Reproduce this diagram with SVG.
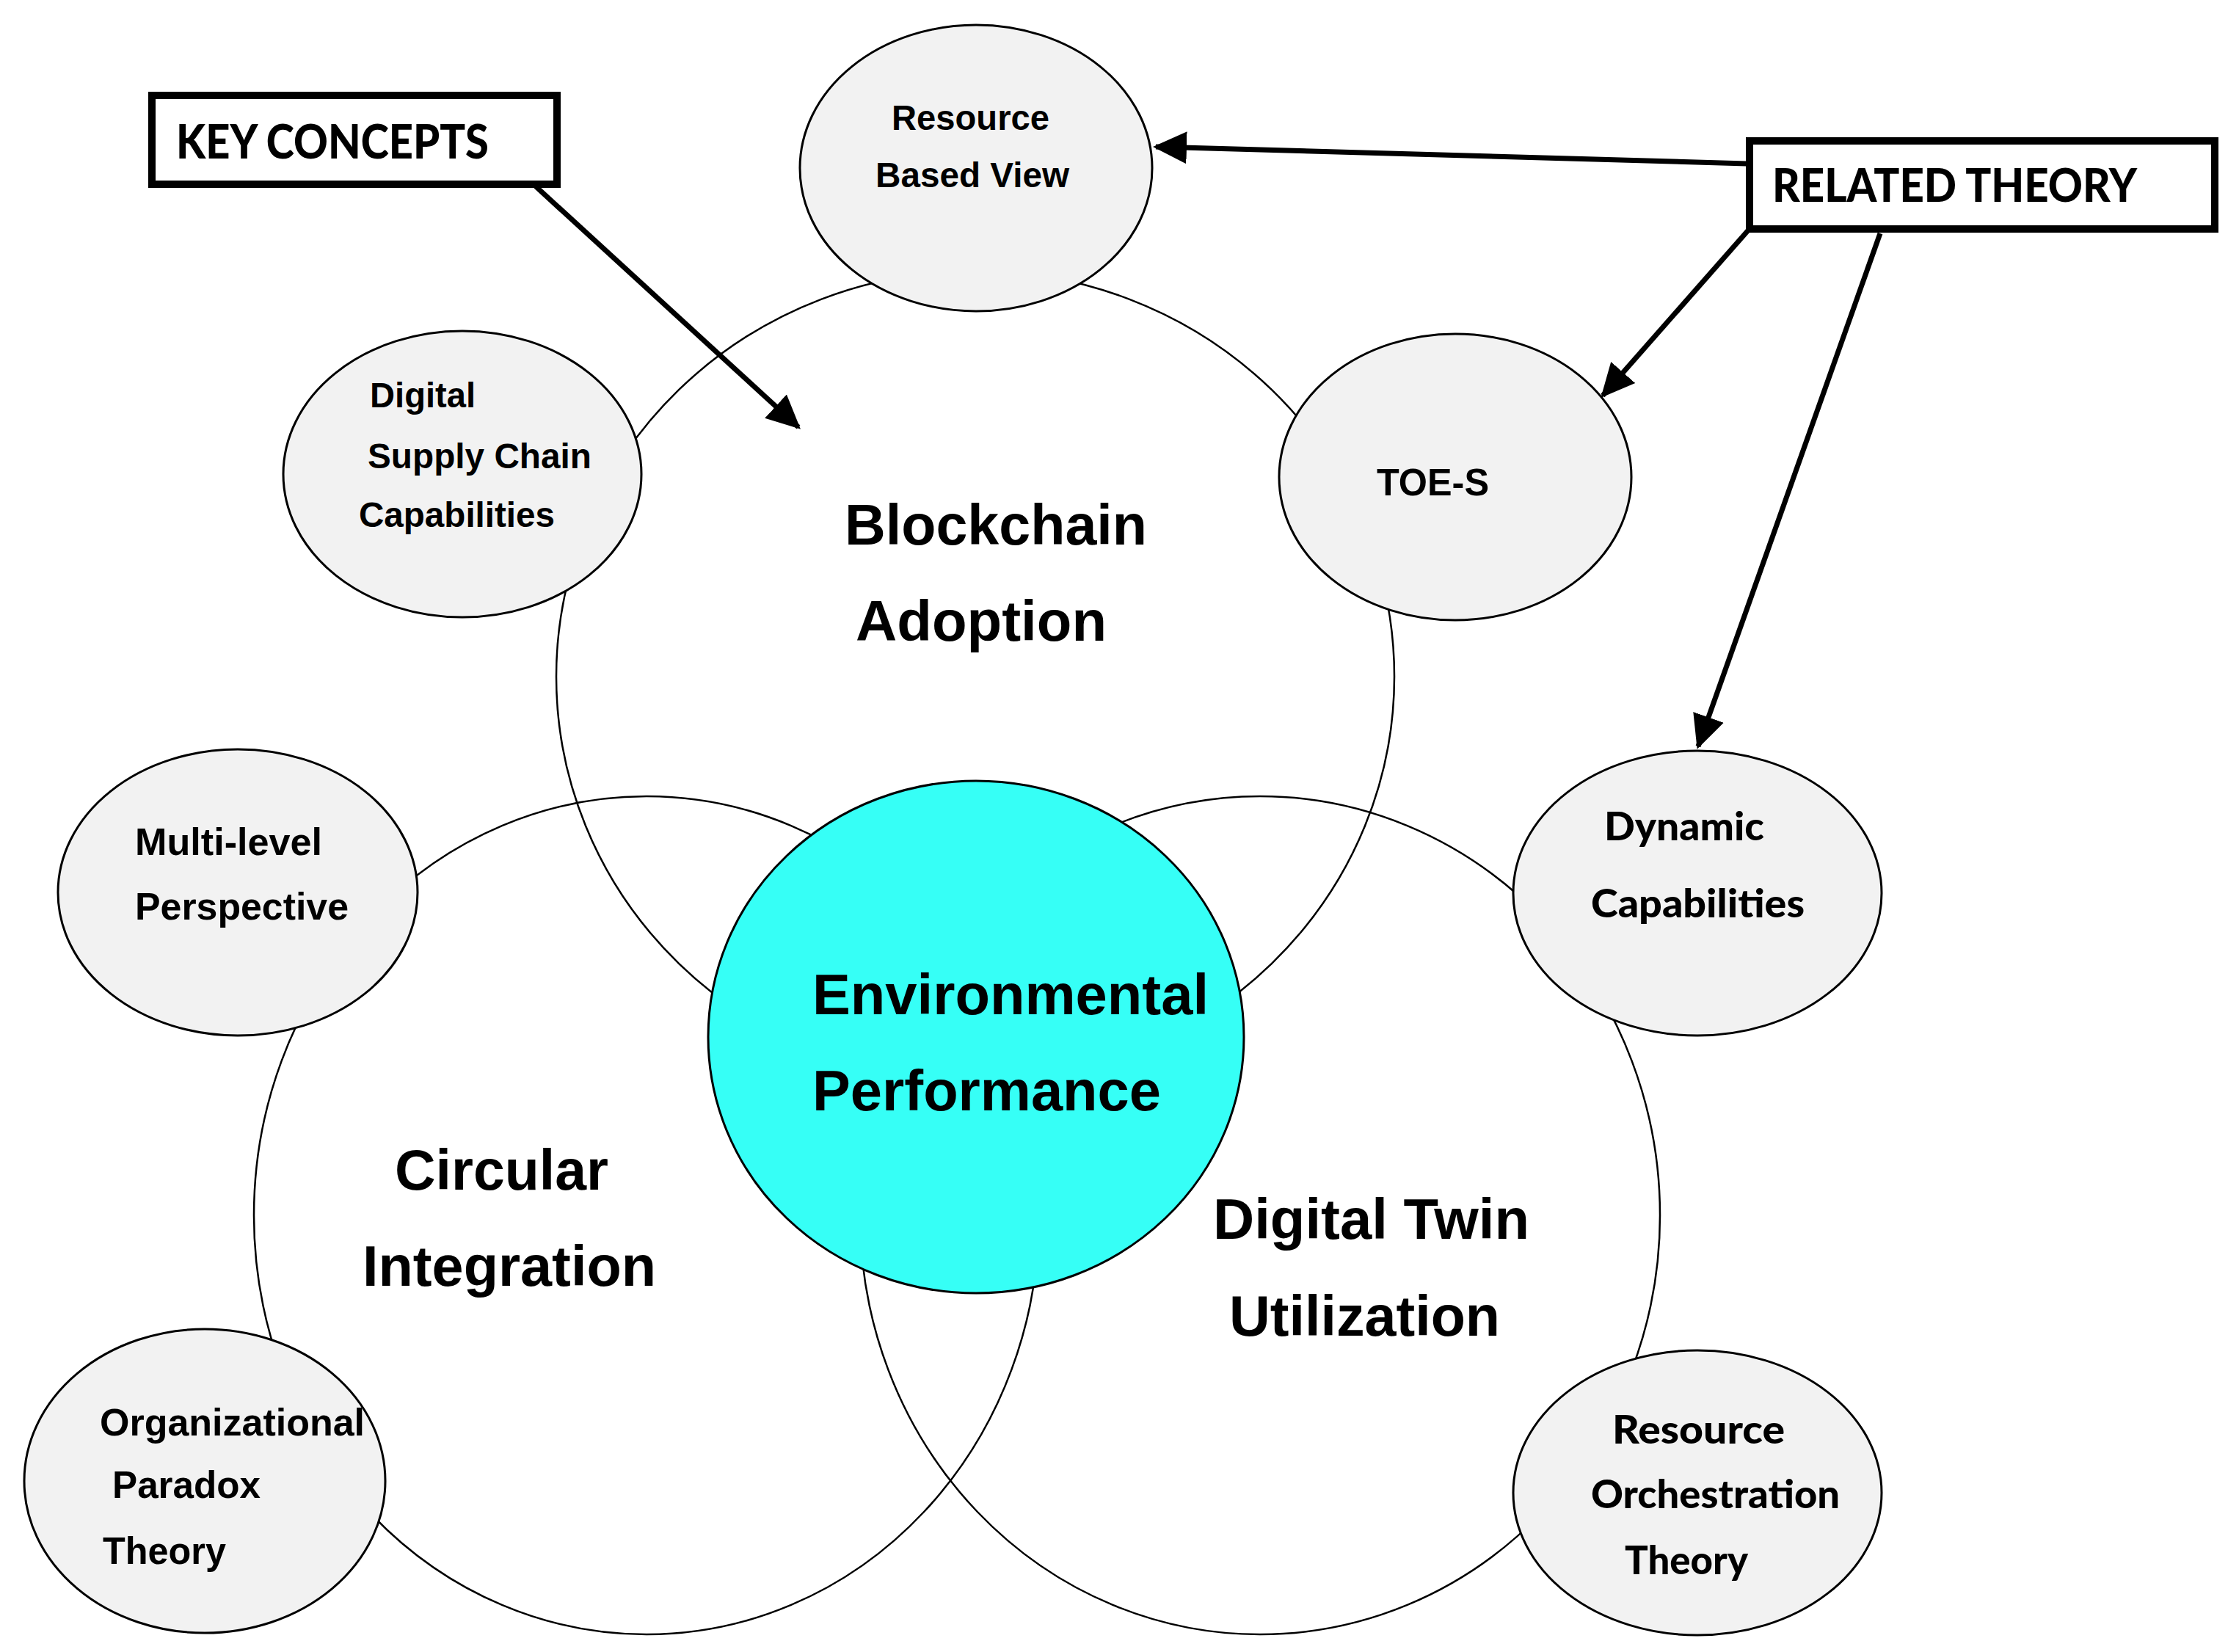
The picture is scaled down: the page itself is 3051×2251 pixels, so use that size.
<svg xmlns="http://www.w3.org/2000/svg" width="3051" height="2251" viewBox="0 0 3051 2251">
<defs>
<style>
.big{fill:none;stroke:#000;stroke-width:2.5}
.bub{fill:#f2f2f2;stroke:#000;stroke-width:3}
.env{fill:#36fff6;stroke:#000;stroke-width:3}
.box{fill:#fff;stroke:#000;stroke-width:10}
.arr{fill:none;stroke:#000;stroke-width:7;marker-end:url(#ah)}
.a{font-family:"Liberation Sans",Arial,sans-serif;font-weight:bold;fill:#000}
.c{font-family:Lato,"Liberation Sans",sans-serif;font-weight:900;fill:#000}
</style>
<marker id="ah" markerUnits="userSpaceOnUse" markerWidth="46" markerHeight="46" viewBox="0 0 46 46" refX="42" refY="23" orient="auto">
<path d="M0,1 L46,23 L0,45 z" fill="#000"/>
</marker>
</defs>
<rect width="3051" height="2251" fill="#fff"/>

<g id="big-circles">
<ellipse id="blockchain-ring" class="big" cx="1329" cy="922" rx="571" ry="553"/>
<ellipse id="circular-ring" class="big" cx="881" cy="1656" rx="535" ry="571"/>
<ellipse id="twin-ring" class="big" cx="1717" cy="1656" rx="545" ry="571"/>
</g>

<g id="node-blockchain">
<text class="a" x="1151" y="742" font-size="78" textLength="412" lengthAdjust="spacingAndGlyphs">Blockchain</text>
<text class="a" x="1166" y="873" font-size="78" textLength="342" lengthAdjust="spacingAndGlyphs">Adoption</text>
</g>
<g id="node-circular">
<text class="a" x="538" y="1621" font-size="77" textLength="291" lengthAdjust="spacingAndGlyphs">Circular</text>
<text class="a" x="494" y="1752" font-size="77" textLength="400" lengthAdjust="spacingAndGlyphs">Integration</text>
</g>
<g id="node-twin">
<text class="a" x="1653" y="1688" font-size="77" textLength="431" lengthAdjust="spacingAndGlyphs">Digital Twin</text>
<text class="a" x="1675" y="1820" font-size="77" textLength="369" lengthAdjust="spacingAndGlyphs">Utilization</text>
</g>

<g id="node-env">
<ellipse class="env" cx="1330" cy="1413" rx="365" ry="349"/>
<text class="a" x="1107" y="1382" font-size="78" textLength="540" lengthAdjust="spacingAndGlyphs">Environmental</text>
<text class="a" x="1107" y="1513" font-size="78" textLength="475" lengthAdjust="spacingAndGlyphs">Performance</text>
</g>

<g id="node-rbv">
<ellipse class="bub" cx="1330" cy="229" rx="240" ry="195"/>
<text class="a" x="1215" y="177" font-size="48" textLength="215" lengthAdjust="spacingAndGlyphs">Resource</text>
<text class="a" x="1193" y="255" font-size="48" textLength="264" lengthAdjust="spacingAndGlyphs">Based View</text>
</g>

<g id="node-dscc">
<ellipse class="bub" cx="630" cy="646" rx="244" ry="195"/>
<text class="a" x="504" y="555" font-size="48" textLength="144" lengthAdjust="spacingAndGlyphs">Digital</text>
<text class="a" x="501" y="638" font-size="48" textLength="305" lengthAdjust="spacingAndGlyphs">Supply Chain</text>
<text class="a" x="489" y="718" font-size="48" textLength="267" lengthAdjust="spacingAndGlyphs">Capabilities</text>
</g>

<g id="node-toes">
<ellipse class="bub" cx="1983" cy="650" rx="240" ry="195"/>
<text class="a" x="1876" y="675" font-size="52" textLength="153" lengthAdjust="spacingAndGlyphs">TOE-S</text>
</g>

<g id="node-mlp">
<ellipse class="bub" cx="324" cy="1216" rx="245" ry="195"/>
<text class="a" x="184" y="1165" font-size="52" textLength="255" lengthAdjust="spacingAndGlyphs">Multi-level</text>
<text class="a" x="184" y="1253" font-size="52" textLength="291" lengthAdjust="spacingAndGlyphs">Perspective</text>
</g>

<g id="node-opt">
<ellipse class="bub" cx="279" cy="2018" rx="246" ry="207"/>
<text class="a" x="136" y="1956" font-size="52" textLength="361" lengthAdjust="spacingAndGlyphs">Organizational</text>
<text class="a" x="153" y="2041" font-size="52" textLength="202" lengthAdjust="spacingAndGlyphs">Paradox</text>
<text class="a" x="140" y="2131" font-size="52" textLength="168" lengthAdjust="spacingAndGlyphs">Theory</text>
</g>

<g id="node-dc">
<ellipse class="bub" cx="2313" cy="1217" rx="251" ry="194"/>
<text class="c" x="2186" y="1145" font-size="54" textLength="218" lengthAdjust="spacingAndGlyphs">Dynamic</text>
<text class="c" x="2168" y="1250" font-size="54" textLength="291" lengthAdjust="spacingAndGlyphs">Capabilities</text>
</g>

<g id="node-rot">
<ellipse class="bub" cx="2313" cy="2034" rx="251" ry="194"/>
<text class="c" x="2197" y="1967" font-size="54" textLength="235" lengthAdjust="spacingAndGlyphs">Resource</text>
<text class="c" x="2168" y="2055" font-size="54" textLength="339" lengthAdjust="spacingAndGlyphs">Orchestration</text>
<text class="c" x="2214" y="2145" font-size="54" textLength="168" lengthAdjust="spacingAndGlyphs">Theory</text>
</g>

<g id="node-key">
<rect class="box" x="207" y="130" width="552" height="121"/>
<text class="c" x="240" y="216" font-size="64" textLength="426" lengthAdjust="spacingAndGlyphs">KEY CONCEPTS</text>
</g>

<g id="node-related">
<rect class="box" x="2384" y="192" width="634" height="120"/>
<text class="c" x="2415" y="275" font-size="62" textLength="497" lengthAdjust="spacingAndGlyphs">RELATED THEORY</text>
</g>

<g id="connectors">
<line class="arr" x1="730" y1="254" x2="1088" y2="582"/>
<line class="arr" x1="2380" y1="223" x2="1575" y2="200"/>
<line class="arr" x1="2382" y1="314" x2="2184" y2="539"/>
<line class="arr" x1="2562" y1="318" x2="2314" y2="1017"/>
</g>
</svg>
